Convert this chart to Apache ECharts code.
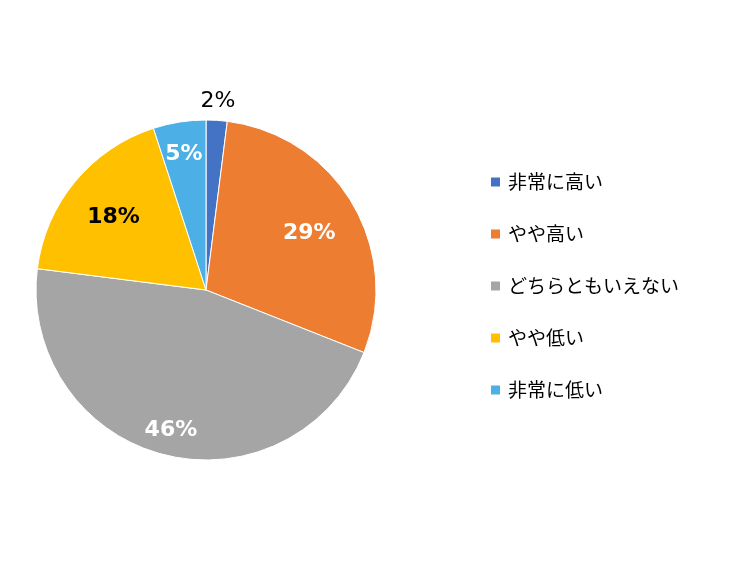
<!DOCTYPE html>
<html>
<head>
<meta charset="utf-8">
<script src="https://cdn.jsdelivr.net/npm/echarts@6/dist/echarts.min.js"></script>
<style>
  html, body { margin: 0; padding: 0; background: #fff; }
  #chart { width: 750px; height: 562px; }
</style>
</head>
<body>
<div id="chart"></div>
<script>
  var categories = ['非常に高い', 'やや高い', 'どちらともいえない', 'やや低い', '非常に低い'];
  var values = [2, 29, 46, 18, 5];
  var colors = ['#4472C4', '#ED7D31', '#A5A5A5', '#FFC000', '#4CB0E6'];
  var labelColors = ['#000', '#fff', '#fff', '#000', '#fff'];

  var center = [206, 290];

  var pieData = categories.map(function (name, i) {
    return { name: name, value: values[i], itemStyle: { color: colors[i] } };
  });

  // transparent pie copy, only used to place some of the labels
  function labelSeries(radius, shown, bold) {
    return {
      type: 'pie',
      center: center,
      radius: radius,
      startAngle: 90,
      silent: true,
      legendHoverLink: false,
      itemStyle: { color: 'rgba(0,0,0,0)' },
      label: {
        position: 'inside',
        formatter: '{c}%',
        fontFamily: 'DejaVu Sans',
        fontWeight: bold ? 'bold' : 'normal',
        fontSize: 22,
        offset: bold ? [0, 4] : [0, 0]
      },
      labelLine: { show: false },
      emphasis: { disabled: true },
      data: categories.map(function (name, i) {
        return {
          name: name,
          value: values[i],
          label: { show: shown.indexOf(i) >= 0, color: labelColors[i] }
        };
      })
    };
  }

  var myChart = echarts.init(document.getElementById('chart'));
  var option = {
    animation: false,
    legend: {
      orient: 'vertical',
      left: 484,
      top: 167,
      itemWidth: 11,
      itemHeight: 11,
      itemGap: 32,
      icon: 'rect',
      data: categories,
      textStyle: {
        fontFamily: 'Noto Sans CJK JP',
        fontSize: 19,
        color: '#000',
        lineHeight: 20,
        padding: [0, 0, 0, 2]
      }
    },
    series: [
      {
        name: 'main',
        type: 'pie',
        center: center,
        radius: 170,
        startAngle: 90,
        label: { show: false },
        labelLine: { show: false },
        itemStyle: { borderColor: '#fff', borderWidth: 1 },
        emphasis: { disabled: true },
        data: pieData
      },
      labelSeries([64, 170], [1, 3], true),
      labelSeries([106, 170], [2, 4], true),
      labelSeries([172, 200], [0], false)
    ]
  };
  myChart.setOption(option);
</script>
</body>
</html>
